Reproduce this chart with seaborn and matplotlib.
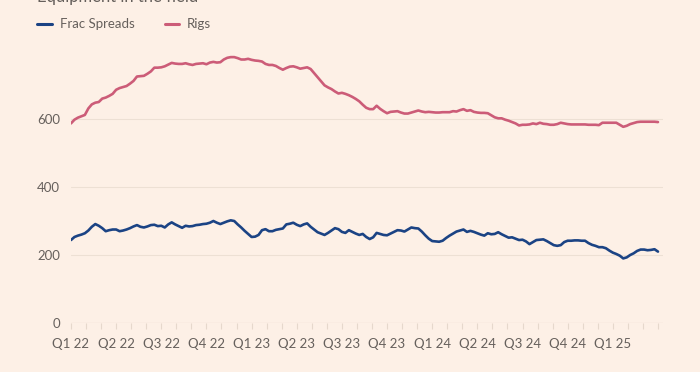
import numpy as np
import pandas as pd
import matplotlib
matplotlib.use('Agg')
import matplotlib.pyplot as plt
import seaborn as sns

# weekly readings, Jan 2022 -> end of Q1 2025
rigs = [587, 598, 604, 608, 612, 631, 643, 648, 650, 660,
        663, 668, 674, 686, 691, 694, 697, 704, 712, 725,
        726, 727, 733, 740, 751, 751, 752, 755, 760, 765,
        763, 762, 762, 764, 761, 759, 762, 763, 764, 761,
        766, 768, 766, 767, 775, 780, 782, 782, 779, 775,
        775, 777, 774, 772, 771, 769, 762, 759, 759, 756,
        750, 745, 750, 754, 755, 752, 748, 750, 752, 747,
        735, 723, 711, 699, 693, 688, 681, 675, 677, 674,
        670, 665, 659, 652, 642, 633, 629, 629, 639, 630,
        623, 617, 621, 622, 623, 619, 616, 616, 619, 622,
        625, 622, 620, 621, 620, 619, 619, 620, 620, 620,
        623, 622, 626, 629, 624, 626, 621, 619, 618, 618,
        617, 611, 605, 602, 602, 598, 595, 591, 587, 581,
        583, 583, 584, 587, 585, 589, 586, 585, 583, 583,
        585, 589, 587, 585, 584, 584, 584, 584, 584, 583,
        583, 583, 582, 589, 589, 589, 589, 589, 583, 577,
        580, 585, 588, 591, 592, 592, 592, 592, 592, 591]

frac_spreads = [244, 253, 257, 260, 264, 272, 283, 291, 286, 279,
                270, 273, 275, 275, 270, 272, 275, 279, 284, 288,
                283, 281, 284, 288, 289, 285, 286, 281, 290, 296,
                290, 285, 280, 286, 284, 285, 288, 289, 291, 292,
                295, 300, 295, 291, 295, 299, 302, 300, 290, 281,
                271, 262, 253, 254, 259, 273, 276, 270, 270, 274,
                276, 278, 290, 292, 295, 289, 285, 290, 293, 283,
                275, 267, 263, 259, 265, 272, 279, 276, 268, 265,
                273, 268, 263, 259, 262, 253, 247, 252, 265, 262,
                259, 258, 263, 268, 273, 272, 269, 275, 281, 279,
                278, 269, 258, 248, 241, 240, 239, 242, 250, 257,
                263, 269, 272, 275, 268, 271, 268, 264, 260, 257,
                264, 261, 262, 267, 261, 256, 251, 252, 248, 244,
                245, 240, 232, 238, 244, 245, 246, 241, 235, 229,
                227, 229, 238, 242, 242, 243, 243, 242, 242, 235,
                230, 227, 223, 223, 220, 213, 207, 203, 198, 190,
                193, 200, 205, 212, 216, 216, 214, 215, 217, 210]

quarter_labels = ['Q1 22', 'Q2 22', 'Q3 22', 'Q4 22', 'Q1 23', 'Q2 23', 'Q3 23',
                  'Q4 23', 'Q1 24', 'Q2 24', 'Q3 24', 'Q4 24', 'Q1 25']

bg = '#fdf0e6'
text_col = '#66605c'
grid_col = '#ede0d4'

week = np.arange(len(rigs))
df = pd.DataFrame({'week': np.concatenate([week, week]),
                   'value': frac_spreads + rigs,
                   'series': ['Frac Spreads'] * len(week) + ['Rigs'] * len(week)})

sns.set_theme(style='white')
plt.rcParams['font.family'] = ['Lato', 'DejaVu Sans']

fig = plt.figure(figsize=(7, 3.72), dpi=100, facecolor=bg)
ax = fig.add_axes([0.1014, 0.1317, 0.846, 0.7312])
ax.set_facecolor(bg)

sns.lineplot(data=df, x='week', y='value', hue='series',
             palette={'Frac Spreads': '#1b4384', 'Rigs': '#cc5c78'},
             linewidth=1.9, ax=ax)

ax.set_xlim(0, 170.5)
ax.set_ylim(0, 800)
ax.set_yticks([0, 200, 400, 600])
ax.set_xticks(np.arange(len(quarter_labels)) * 13)
ax.set_xticklabels(quarter_labels)
ax.set_xticks(np.arange(0, 170, 13 / 3), minor=True)
ax.set_xlabel('')
ax.set_ylabel('')

for y in [200, 400, 600]:
    ax.axhline(y, color=grid_col, linewidth=0.8, zorder=0)
ax.axhline(0, color='#e6d8cc', linewidth=0.9, zorder=0)

for s in ax.spines.values():
    s.set_visible(False)

ax.tick_params(axis='y', length=0, pad=8, labelsize=9.5, labelcolor=text_col)
ax.tick_params(axis='x', which='both', length=4.5, width=0.8, color='#e6d8cc',
               pad=6, labelsize=9.5, labelcolor=text_col, bottom=True)
for lab in ax.get_yticklabels():
    lab.set_horizontalalignment('right')

leg = ax.legend(loc='center left', bbox_to_anchor=(0.053, 0.935),
                bbox_transform=fig.transFigure, ncol=2, frameon=False,
                fontsize=9.5, handlelength=1.1, handletextpad=0.6,
                columnspacing=2.3, borderpad=0, borderaxespad=0)
for t in leg.get_texts():
    t.set_color(text_col)
for h in leg.get_lines():
    h.set_linewidth(2.2)

fig.text(0.053, 1 - 2 / 372, 'Equipment in the field', fontsize=12,
         color=text_col, va='baseline', ha='left')

fig.savefig('out.png', dpi=100, facecolor=bg)
